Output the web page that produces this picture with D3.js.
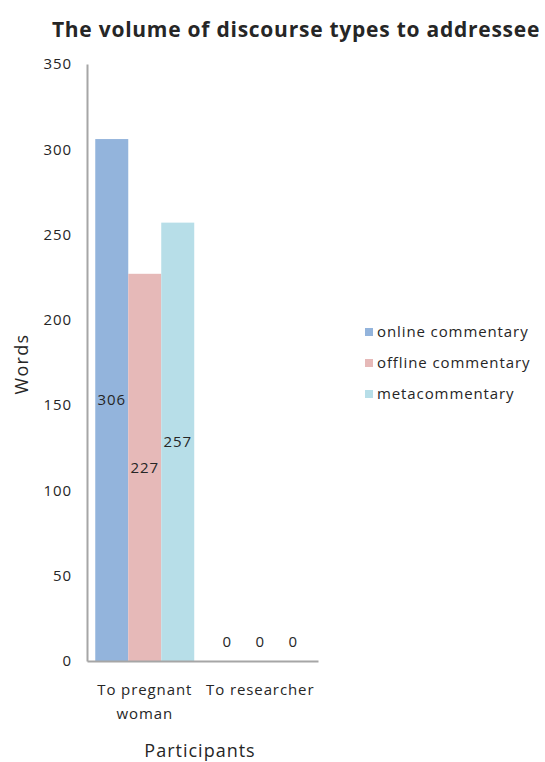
<!DOCTYPE html>
<html>
<head>
<meta charset="utf-8">
<script src="https://cdn.jsdelivr.net/npm/d3@7"></script>
<style>
  html, body { margin: 0; padding: 0; background: #fff; }
  svg { display: block; }
  text { font-family: "Open Sans", "DejaVu Sans", sans-serif; fill: #262626; letter-spacing: 0.9px; }
</style>
</head>
<body>
<svg id="chart" width="545" height="762"></svg>
<script>
// Participant groups (x axis)
const categories = ["To pregnant woman", "To researcher"];
const categoryLines = [["To pregnant", "woman"], ["To researcher"]];

// Discourse types (series)
const seriesNames = ["online commentary", "offline commentary", "metacommentary"];
const seriesColors = ["#93B4DC", "#E6B9B8", "#B7DEE8"];

// Words per series, one value per participant group
const onlineCommentary = [306, 0];
const offlineCommentary = [227, 0];
const metacommentary = [257, 0];

const yTicks = [0, 50, 100, 150, 200, 250, 300, 350];

const seriesValues = [onlineCommentary, offlineCommentary, metacommentary];

const svg = d3.select("#chart");
const margin = { left: 87, right: 227, top: 64, bottom: 101 };
const W = 545, H = 762;

const x0 = d3.scaleBand()
  .domain(categories)
  .range([margin.left, W - margin.right])
  .paddingInner(0.143)
  .paddingOuter(0.0715);

const x1 = d3.scaleBand()
  .domain(seriesNames)
  .range([0, x0.bandwidth()]);

const y = d3.scaleLinear()
  .domain([0, 350])
  .range([H - margin.bottom, margin.top]);

// Title
svg.append("text")
  .attr("x", 296)
  .attr("y", 37)
  .attr("text-anchor", "middle")
  .style("font-weight", "bold")
  .style("font-size", "21px")
  .style("letter-spacing", "0.75px")
  .text("The volume of discourse types to addressee");

// Bars
const groups = svg.append("g").selectAll("g")
  .data(categories)
  .join("g")
  .attr("transform", d => `translate(${x0(d)},0)`);

groups.selectAll("rect")
  .data((c, ci) => seriesNames.map((s, si) => ({ s, si, v: seriesValues[si][ci] })))
  .join("rect")
  .attr("x", d => x1(d.s))
  .attr("width", x1.bandwidth())
  .attr("y", d => y(d.v))
  .attr("height", d => y(0) - y(d.v))
  .attr("fill", d => seriesColors[d.si]);

// Value labels, centred in each bar
groups.selectAll("text.value")
  .data((c, ci) => seriesNames.map((s, si) => ({ s, si, v: seriesValues[si][ci] })))
  .join("text")
  .attr("class", "value")
  .attr("x", d => x1(d.s) + x1.bandwidth() / 2)
  .attr("y", d => Math.min(y(d.v / 2), y(0) - 19))
  .attr("dy", "0.35em")
  .attr("text-anchor", "middle")
  .style("font-size", "15px")
  .text(d => d.v);

// Y axis
const yAxis = svg.append("g")
  .attr("transform", `translate(${margin.left},0)`)
  .call(d3.axisLeft(y).tickValues(yTicks).tickSize(0).tickPadding(15));
yAxis.select(".domain").attr("stroke", "#A6A6A6").attr("stroke-width", 2);
yAxis.selectAll("text")
  .style("font-family", "'Open Sans', sans-serif")
  .style("font-size", "15px")
  .attr("fill", "#262626");

// X axis
const xAxis = svg.append("g")
  .attr("transform", `translate(0,${y(0)})`)
  .call(d3.axisBottom(x0).tickSize(0).tickFormat(""));
xAxis.select(".domain").attr("stroke", "#A6A6A6").attr("stroke-width", 2);

// Category labels (wrapped)
svg.append("g").selectAll("text")
  .data(categories)
  .join("text")
  .attr("x", d => x0(d) + x0.bandwidth() / 2)
  .attr("y", 695)
  .attr("text-anchor", "middle")
  .style("font-size", "15px")
  .each(function (d, i) {
    d3.select(this).selectAll("tspan")
      .data(categoryLines[i])
      .join("tspan")
      .attr("x", x0(d) + x0.bandwidth() / 2)
      .attr("dy", (t, j) => j === 0 ? 0 : 24)
      .text(t => t);
  });

// Axis titles
svg.append("text")
  .attr("x", 200)
  .attr("y", 757)
  .attr("text-anchor", "middle")
  .style("font-size", "18px")
  .style("letter-spacing", "1px")
  .text("Participants");

svg.append("text")
  .attr("transform", "translate(28,364) rotate(-90)")
  .attr("text-anchor", "middle")
  .style("font-size", "18px")
  .style("letter-spacing", "1.3px")
  .text("Words");

// Legend
const legend = svg.append("g").selectAll("g")
  .data(seriesNames)
  .join("g")
  .attr("transform", (d, i) => `translate(365,${332 + i * 31})`);
legend.append("rect")
  .attr("x", 0).attr("y", -4)
  .attr("width", 8).attr("height", 8)
  .attr("fill", (d, i) => seriesColors[i]);
legend.append("text")
  .attr("x", 12)
  .attr("dy", "0.35em")
  .style("font-size", "15px")
  .text(d => d);
</script>
</body>
</html>
